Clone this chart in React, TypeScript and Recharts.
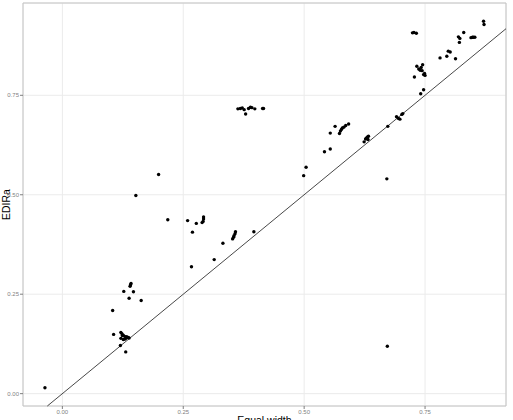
import {
  CartesianGrid,
  Label,
  ReferenceArea,
  ReferenceLine,
  Scatter,
  ScatterChart,
  XAxis,
  YAxis,
} from "recharts";

// Equal width (x) vs EDIRa (y), one entry per point
const equalWidth = [
  -0.036, 0.104, 0.127, 0.14, 0.141, 0.142, 0.147, 0.138, 0.163, 0.152, 0.199,
  0.106, 0.121, 0.123, 0.126, 0.129, 0.133, 0.136, 0.121, 0.126, 0.129, 0.138,
  0.12, 0.131, 0.124, 0.131,
  0.218, 0.259, 0.269, 0.277, 0.289, 0.291, 0.292, 0.292, 0.267, 0.314, 0.332,
  0.352, 0.355, 0.357, 0.358, 0.354, 0.396,
  0.363, 0.368, 0.372, 0.376, 0.379, 0.385, 0.389, 0.392, 0.398, 0.414, 0.416,
  0.499, 0.504, 0.542, 0.554, 0.554, 0.564, 0.573, 0.575, 0.577, 0.579, 0.582,
  0.586, 0.592, 0.624, 0.627, 0.631, 0.633, 0.632, 0.629, 0.673, 0.691, 0.695,
  0.698, 0.702, 0.704, 0.671, 0.672, 0.741, 0.747,
  0.724, 0.727, 0.732, 0.733, 0.728, 0.737, 0.74, 0.742, 0.744, 0.745, 0.747,
  0.75, 0.749, 0.781, 0.795, 0.798, 0.802, 0.813, 0.821, 0.819, 0.83, 0.822,
  0.845, 0.848, 0.85, 0.853, 0.871, 0.872,
];

const edira = [
  0.015, 0.209, 0.257, 0.27, 0.274, 0.277, 0.256, 0.24, 0.234, 0.498, 0.551,
  0.149, 0.154, 0.151, 0.147, 0.144, 0.143, 0.141, 0.139, 0.136, 0.137, 0.14,
  0.121, 0.105, 0.146, 0.139,
  0.437, 0.435, 0.406, 0.428, 0.43, 0.433, 0.439, 0.444, 0.319, 0.337, 0.378,
  0.389, 0.397, 0.402, 0.407, 0.393, 0.407,
  0.716, 0.717, 0.718, 0.714, 0.703, 0.717, 0.72, 0.719, 0.716, 0.717, 0.717,
  0.548, 0.569, 0.608, 0.615, 0.655, 0.672, 0.654, 0.66, 0.664, 0.668, 0.67,
  0.674, 0.678, 0.633, 0.64, 0.645, 0.647, 0.639, 0.643, 0.672, 0.696, 0.692,
  0.69, 0.702, 0.704, 0.54, 0.119, 0.754, 0.764,
  0.907, 0.908, 0.906, 0.823, 0.796, 0.816, 0.813, 0.82, 0.812, 0.827, 0.802,
  0.8, 0.805, 0.844, 0.848, 0.861, 0.859, 0.842, 0.883, 0.897, 0.908, 0.893,
  0.895, 0.896, 0.896, 0.896, 0.936, 0.928,
];

const xTicks = [0, 0.25, 0.5, 0.75];
const yTicks = [0, 0.25, 0.5, 0.75];

const points = equalWidth.map((x, i) => ({ x, y: edira[i] }));

// ggplot-style 5% expansion of the data range
const expand = (v: number[]) => {
  const lo = Math.min(...v);
  const hi = Math.max(...v);
  const d = (hi - lo) * 0.05;
  return [lo - d, hi + d];
};
const xDomain = expand(equalWidth);
const yDomain = expand(edira);
const lineLo = Math.max(xDomain[0], yDomain[0]);
const lineHi = Math.min(xDomain[1], yDomain[1]);

const FONT = "'Liberation Sans', Arial, sans-serif";
const tickStyle = { fontSize: 6, fill: "#7f7f7f", fontFamily: FONT };

const renderDot = (p: any) => (
  <circle cx={p.cx} cy={p.cy} r={1.7} fill="#000" />
);

const App = () => {
  return (
    <div style={{ position: "absolute", left: 0, top: 0 }}>
      <ScatterChart
        width={513}
        height={420}
        margin={{ top: 3, right: 7, bottom: 0, left: 0 }}
      >
        <CartesianGrid stroke="#ebebeb" strokeWidth={1} />
        <XAxis
          type="number"
          dataKey="x"
          domain={xDomain}
          ticks={xTicks}
          allowDataOverflow
          tickFormatter={(v: number) => v.toFixed(2)}
          height={14}
          axisLine={false}
          tickSize={3}
          tickMargin={1}
          tickLine={{ stroke: "#7f7f7f" }}
          tick={tickStyle}
        >
          <Label
            content={() => (
              <text
                x={264.5}
                y={424.3}
                textAnchor="middle"
                fontSize={10.5}
                fontFamily={FONT}
                fill="#000"
              >
                Equal width
              </text>
            )}
          />
        </XAxis>
        <YAxis
          type="number"
          dataKey="y"
          domain={yDomain}
          ticks={yTicks}
          allowDataOverflow
          tickFormatter={(v: number) => v.toFixed(2)}
          width={23}
          axisLine={false}
          tickSize={3}
          tickMargin={1}
          tickLine={{ stroke: "#7f7f7f" }}
          tick={tickStyle}
        >
          <Label
            content={() => (
              <text
                x={9.5}
                y={204.5}
                transform="rotate(-90, 9.5, 204.5)"
                textAnchor="middle"
                fontSize={10.5}
                fontFamily={FONT}
                fill="#000"
              >
                EDIRa
              </text>
            )}
          />
        </YAxis>
        <Scatter
          data={points}
          shape={renderDot}
          isAnimationActive={false}
        />
        <ReferenceLine
          segment={[
            { x: lineLo, y: lineLo },
            { x: lineHi, y: lineHi },
          ]}
          stroke="#333"
          strokeWidth={0.9}
        />
        <ReferenceArea
          x1={xDomain[0]}
          x2={xDomain[1]}
          y1={yDomain[0]}
          y2={yDomain[1]}
          fill="none"
          stroke="#c4c4c4"
          strokeWidth={1}
        />
      </ScatterChart>
    </div>
  );
};

export default App;
